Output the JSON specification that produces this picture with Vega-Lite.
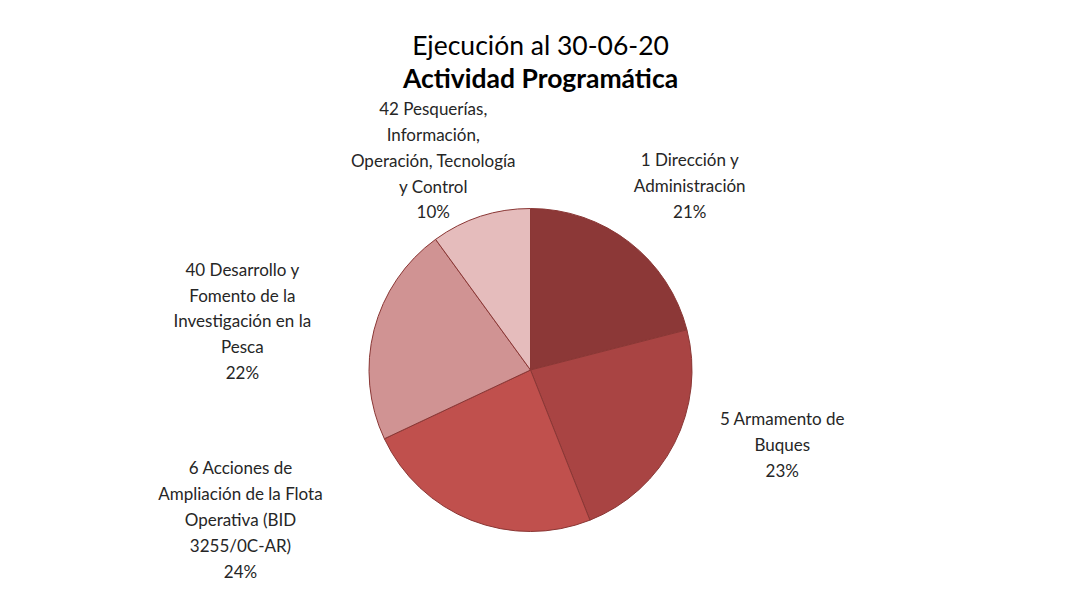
{
  "$schema": "https://vega.github.io/schema/vega-lite/v6.json",
  "autosize": {"type": "none"},
  "padding": {"left": 5, "top": 149, "right": 13, "bottom": 0},
  "width": 1051,
  "height": 442,
  "background": "white",
  "config": {"view": {"stroke": null}},
  "title": {
    "text": "Ejecución al 30-06-20",
    "subtitle": "Actividad Programática",
    "font": "Lato",
    "subtitleFont": "Lato",
    "fontSize": 26.5,
    "subtitleFontSize": 26.5,
    "fontWeight": "normal",
    "subtitleFontWeight": "bold",
    "color": "#000000",
    "subtitleColor": "#000000",
    "anchor": "middle",
    "dx": 10,
    "offset": 8,
    "subtitlePadding": 6.5
  },
  "data": {
    "values": [
      {"categoria": "1 Dirección y\nAdministración", "porcentaje": 21, "orden": 1},
      {"categoria": "5 Armamento de\nBuques", "porcentaje": 23, "orden": 2},
      {"categoria": "6 Acciones de\nAmpliación de la Flota\nOperativa (BID\n3255/0C-AR)", "porcentaje": 24, "orden": 3},
      {"categoria": "40 Desarrollo y\nFomento de la\nInvestigación en la\nPesca", "porcentaje": 22, "orden": 4},
      {"categoria": "42 Pesquerías,\nInformación,\nOperación, Tecnología\ny Control", "porcentaje": 10, "orden": 5}
    ]
  },
  "transform": [
    {"calculate": "datum.categoria + '\\n' + datum.porcentaje + '%'", "as": "etiqueta"}
  ],
  "encoding": {
    "theta": {"field": "porcentaje", "type": "quantitative", "stack": true},
    "order": {"field": "orden", "type": "quantitative"}
  },
  "layer": [
    {
      "mark": {"type": "arc", "radius": 161.5, "stroke": "#8A3735", "strokeWidth": 1},
      "encoding": {
        "color": {
          "field": "categoria",
          "type": "nominal",
          "sort": null,
          "legend": null,
          "scale": {
            "domain": [
              "1 Dirección y\nAdministración",
              "5 Armamento de\nBuques",
              "6 Acciones de\nAmpliación de la Flota\nOperativa (BID\n3255/0C-AR)",
              "40 Desarrollo y\nFomento de la\nInvestigación en la\nPesca",
              "42 Pesquerías,\nInformación,\nOperación, Tecnología\ny Control"
            ],
            "range": ["#8C3837", "#A94443", "#C0504D", "#D09393", "#E5BCBC"]
          }
        }
      }
    },
    {
      "mark": {
        "type": "text",
        "radius": 250,
        "font": "Lato",
        "fontSize": 17,
        "lineHeight": 25.8,
        "lineBreak": "\n",
        "align": "center",
        "baseline": "middle",
        "color": "#262626",
        "dx": {"expr": "datum.orden == 1 ? 6 : datum.orden == 2 ? 29 : datum.orden == 3 ? -198 : datum.orden == 4 ? -46 : -20"},
        "dy": {"expr": "datum.orden == 1 ? -11 : datum.orden == 2 ? -63 : datum.orden == 3 ? -133 : datum.orden == 4 ? -37 : -22"}
      },
      "encoding": {
        "text": {"field": "etiqueta", "type": "nominal"}
      }
    }
  ]
}
